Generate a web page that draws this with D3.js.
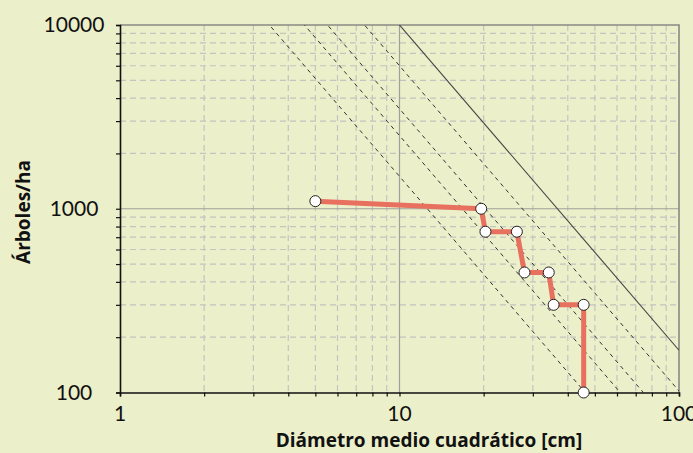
<!DOCTYPE html>
<html>
<head>
<meta charset="utf-8">
<script src="https://cdn.jsdelivr.net/npm/d3@7"></script>
<style>
  body { margin: 0; background: #ebefca; }
  svg { display: block; }
</style>
</head>
<body>
<svg id="chart" width="693" height="453"></svg>
<script>
// Data
const diameters = [5.0, 19.6, 20.3, 26.3, 28.0, 34.2, 35.6, 45.6, 45.6];   // cm
const densities = [1100, 1000, 750, 750, 450, 450, 300, 300, 100];        // trees/ha

// Max density line: passes 10000 trees/ha at 10 cm, slope in log-log
const maxRefDiameter = 10;
const maxRefDensity = 10000;
const thinningSlope = -1.77;
const densityFractions = [0.15, 0.25, 0.35, 0.6]; // dashed lines

const xTickLabels = [1, 10, 100];
const yTickLabels = [100, 1000, 10000];
const xTitle = "Diámetro medio cuadrático [cm]";
const yTitle = "Árboles/ha";

// Layout
const svg = d3.select("#chart");
const plotLeft = 120, plotRight = 679, plotTop = 25, plotBottom = 392.5;

const x = d3.scaleLog().domain([1, 100]).range([plotLeft, plotRight]);
const y = d3.scaleLog().domain([100, 10000]).range([plotBottom, plotTop]);

// Minor grid values
const xMinor = [2,3,4,5,6,7,8,9,20,30,40,50,60,70,80,90];
const yMinor = [200,300,400,500,600,700,800,900,2000,3000,4000,5000,6000,7000,8000,9000];

// Clip
svg.append("defs").append("clipPath").attr("id", "plotClip")
  .append("rect")
  .attr("x", plotLeft).attr("y", plotTop)
  .attr("width", plotRight - plotLeft).attr("height", plotBottom - plotTop);

// Grid
const grid = svg.append("g").attr("class", "grid");
grid.selectAll("line.vminor").data(xMinor).join("line")
  .attr("x1", d => x(d)).attr("x2", d => x(d))
  .attr("y1", plotTop).attr("y2", plotBottom)
  .attr("stroke", "#c4c4c0").attr("stroke-width", 1.2)
  .attr("stroke-dasharray", "6,4");
grid.selectAll("line.hminor").data(yMinor).join("line")
  .attr("y1", d => y(d)).attr("y2", d => y(d))
  .attr("x1", plotLeft).attr("x2", plotRight)
  .attr("stroke", "#c4c4c0").attr("stroke-width", 1.2)
  .attr("stroke-dasharray", "6,4");

// Major grid lines (10 cm and 1000 trees/ha)
grid.append("line")
  .attr("x1", x(10)).attr("x2", x(10)).attr("y1", plotTop).attr("y2", plotBottom)
  .attr("stroke", "#a0a09a").attr("stroke-width", 1.2);
grid.append("line")
  .attr("y1", y(1000)).attr("y2", y(1000)).attr("x1", plotLeft).attr("x2", plotRight)
  .attr("stroke", "#a0a09a").attr("stroke-width", 1.2);

// Frame (top and right)
svg.append("path")
  .attr("d", `M${plotLeft},${plotTop}H${plotRight}V${plotBottom}`)
  .attr("fill", "none").attr("stroke", "#8a8a84").attr("stroke-width", 1.6);

// Density lines
function densityAt(d, frac) {
  return frac * maxRefDensity * Math.pow(d / maxRefDiameter, thinningSlope);
}
const lines = svg.append("g").attr("clip-path", "url(#plotClip)");
densityFractions.forEach(f => {
  lines.append("line")
    .attr("x1", x(1)).attr("y1", y(densityAt(1, f)))
    .attr("x2", x(100)).attr("y2", y(densityAt(100, f)))
    .attr("stroke", "#333").attr("stroke-width", 1)
    .attr("stroke-dasharray", "4,4");
});
lines.append("line")
  .attr("x1", x(1)).attr("y1", y(densityAt(1, 1)))
  .attr("x2", x(100)).attr("y2", y(densityAt(100, 1)))
  .attr("stroke", "#444").attr("stroke-width", 1.1);

// Axes
const xAxis = d3.axisBottom(x)
  .tickValues([1].concat(xMinor.slice(0, 8), [10], xMinor.slice(8), [100]))
  .tickSize(4).tickFormat("");
svg.append("g").attr("transform", `translate(0,${plotBottom})`).call(xAxis)
  .call(g => g.select(".domain").attr("stroke", "#111").attr("stroke-width", 1.6))
  .call(g => g.selectAll(".tick line").attr("stroke", "#111").attr("stroke-width", 1.2));

const yAxis = d3.axisLeft(y)
  .tickValues([100].concat(yMinor.slice(0, 8), [1000], yMinor.slice(8), [10000]))
  .tickSize(4).tickFormat("");
svg.append("g").attr("transform", `translate(${plotLeft},0)`).call(yAxis)
  .call(g => g.select(".domain").attr("stroke", "#111").attr("stroke-width", 1.6))
  .call(g => g.selectAll(".tick line").attr("stroke", "#111").attr("stroke-width", 1.2));

// Tick labels
const labelFont = "Lato, 'Open Sans', sans-serif";
const titleFont = "'Open Sans', Lato, sans-serif";
svg.append("g").selectAll("text").data(xTickLabels).join("text")
  .attr("x", d => x(d)).attr("y", 421)
  .attr("text-anchor", "middle")
  .style("font-family", labelFont).style("font-size", "21px").attr("fill", "#111")
  .text(d => d);
svg.append("g").selectAll("text").data(yTickLabels).join("text")
  .attr("x", 74).attr("y", d => y(d) + 7)
  .attr("text-anchor", "middle")
  .style("font-family", labelFont).style("font-size", "21px").attr("fill", "#111")
  .text(d => d);

// Axis titles
svg.append("text")
  .attr("x", 429).attr("y", 447)
  .attr("text-anchor", "middle")
  .style("font-family", titleFont).style("font-size", "19px").style("font-weight", "bold")
  .attr("fill", "#111")
  .text(xTitle);
svg.append("text")
  .attr("transform", "translate(30,212) rotate(-90)")
  .attr("text-anchor", "middle")
  .style("font-family", titleFont).style("font-size", "19px").style("font-weight", "bold")
  .attr("fill", "#111")
  .text(yTitle);

// Stand trajectory
const points = diameters.map((d, i) => ({d: d, n: densities[i]}));
const path = d3.line().x(p => x(p.d)).y(p => y(p.n));
svg.append("path")
  .datum(points)
  .attr("d", path)
  .attr("fill", "none")
  .attr("stroke", "#e8705e")
  .attr("stroke-width", 5)
  .attr("stroke-linejoin", "round");

svg.append("g").selectAll("circle").data(points).join("circle")
  .attr("cx", p => x(p.d)).attr("cy", p => y(p.n))
  .attr("r", 5.5)
  .attr("fill", "#fff")
  .attr("stroke", "#222").attr("stroke-width", 1);
</script>
</body>
</html>
